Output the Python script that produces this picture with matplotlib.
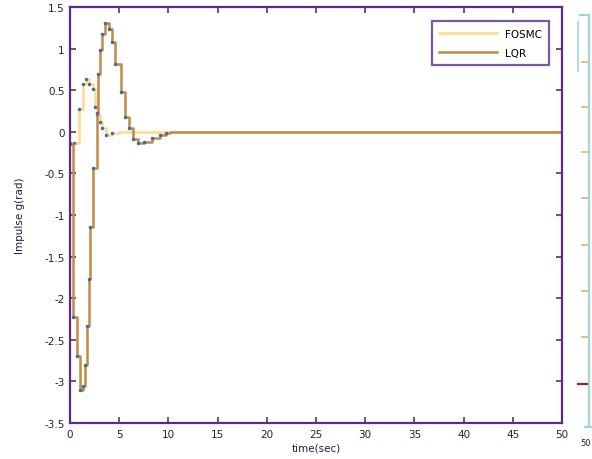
import matplotlib
matplotlib.use("Agg")
import matplotlib.pyplot as plt
from matplotlib.lines import Line2D

# LQR response (stairs)
t_lqr = [0.0, 0.27, 0.68, 1.02, 1.29, 1.52, 1.70, 1.96, 2.05, 2.30, 2.70, 2.86, 3.00, 3.30, 3.60,
         3.96, 4.30, 4.60, 5.15, 5.60, 5.95, 6.40, 6.90, 7.50, 8.30, 9.10, 9.80, 10.2, 50.0]
y_lqr = [-0.15, -2.22, -2.70, -3.10, -3.06, -2.80, -2.34, -1.77, -1.14, -0.44, 0.22, 0.69, 0.98, 1.18, 1.31,
         1.24, 1.08, 0.82, 0.48, 0.18, 0.04, -0.09, -0.13, -0.12, -0.08, -0.04, -0.01, 0.0, 0.0]

# FOSMC response (stairs)
t_fos = [0.0, 0.45, 0.90, 1.30, 1.63, 1.96, 2.30, 2.50, 2.75, 3.00, 3.30, 3.70, 4.30, 5.00, 50.0]
y_fos = [-0.14, -0.14, 0.28, 0.57, 0.63, 0.58, 0.52, 0.30, 0.20, 0.12, 0.04, -0.04, -0.01, 0.0, 0.0]

xticks = [0, 5, 10, 15, 20, 25, 30, 35, 40, 45, 50]
yticks = [-3.5, -3, -2.5, -2, -1.5, -1, -0.5, 0, 0.5, 1, 1.5]
ytick_labels = ["-3.5", "-3", "-2.5", "-2", "-1.5", "-1", "-0.5", "0", "0.5", "1", "1.5"]

purple = "#5a2d82"
c_fos = "#ffd98c"
c_lqr = "#c48a45"
dot = "#3a6fa0"

fig = plt.figure(figsize=(5.92, 4.60), dpi=100)
ax = fig.add_axes([70/592, 1-424/460, (562-70)/592, (424-8)/460])

ax.step(t_fos, y_fos, where="post", color=c_fos, lw=1.8,
        marker=".", markersize=3, markerfacecolor=dot, markeredgecolor=dot, markevery=slice(0, -2))
ax.step(t_lqr, y_lqr, where="post", color=c_lqr, lw=1.8,
        marker=".", markersize=3, markerfacecolor=dot, markeredgecolor=dot, markevery=slice(0, -2))

ax.set_xlim(0, 50)
ax.set_ylim(-3.5, 1.5)
ax.set_xticks(xticks)
ax.set_xticklabels([str(v) for v in xticks])
ax.set_yticks(yticks)
ax.set_yticklabels(ytick_labels)
ax.tick_params(direction="in", length=4, width=1.2, color=purple, top=True, right=True,
               labelsize=7.5, labelcolor="#2a1a40", pad=4)
for s in ax.spines.values():
    s.set_color(purple)
    s.set_linewidth(1.6)

ax.set_xlabel("time(sec)", fontsize=7.5, color="#2a1a40", labelpad=3)
ax.set_ylabel("Impulse g(rad)", fontsize=7.5, color="#2a1a40", labelpad=14)

handles = [Line2D([], [], color=c_fos, lw=1.8), Line2D([], [], color=c_lqr, lw=1.8)]
leg = ax.legend(handles, ["FOSMC", "LQR"], loc="upper right", fontsize=7.5, frameon=True,
                fancybox=False, edgecolor=purple, handlelength=5.5, borderpad=0.7,
                labelspacing=0.9, bbox_to_anchor=(0.985, 0.978))
leg.get_frame().set_linewidth(1.6)

# Partial neighbouring axes at the right edge (cropped in the reference)
cyan = "#9fd6d6"
W, H = 592, 460
def fl(x0, y0, x1, y1, c, lw):
    fig.add_artist(Line2D([x0/W, x1/W], [1-y0/H, 1-y1/H], color=c, lw=lw))
fl(589, 16, 589, 428, cyan, 1.6)
fl(580, 16, 589, 16, cyan, 1.6)
fl(585, 428, 592, 428, cyan, 1.6)
fl(578, 23, 578, 72, cyan, 1.2)
for yy in [63, 108, 153, 199, 246, 292, 338]:
    fl(582, yy, 587, yy, "#e0b070", 1.2)
fl(578, 385, 587, 385, "#a02020", 1.6)
fig.text(591/W, 1-444/H, "50", fontsize=6, color="#2a1a40", ha="right", va="center")

fig.savefig("out.png", dpi=100)
